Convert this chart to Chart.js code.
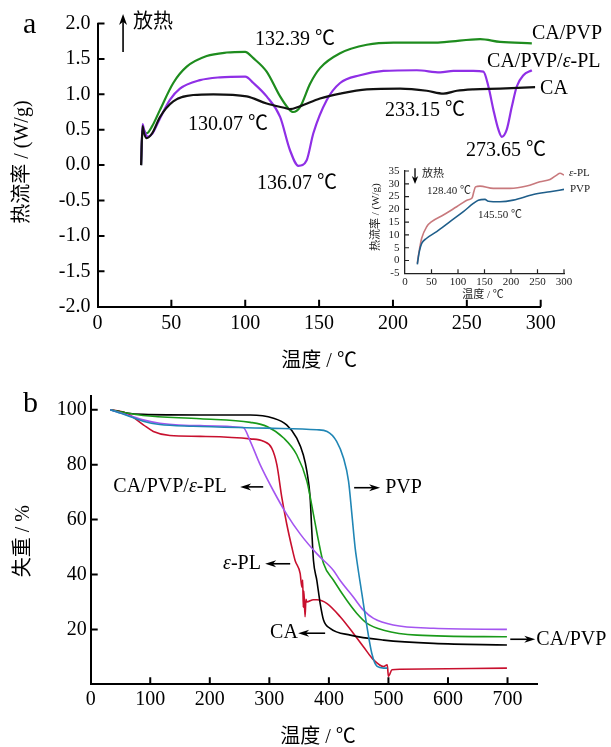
<!DOCTYPE html>
<html><head><meta charset="utf-8">
<script src="https://cdn.jsdelivr.net/npm/chart.js@4/dist/chart.umd.min.js"></script>
<style>
html,body{margin:0;padding:0;background:#fff;width:611px;height:747px;overflow:hidden;position:relative;}
canvas{position:absolute;}
#ca{left:0;top:0;width:611px;height:380px;}
#ci{left:355px;top:155px;width:245px;height:160px;}
#cb{left:0;top:380px;width:611px;height:367px;}
</style></head><body>
<canvas id="ca" width="611" height="380"></canvas>
<canvas id="cb" width="611" height="367"></canvas>
<canvas id="ci" width="245" height="160"></canvas>
<script>
// ---------- Panel a : DSC ----------
const aXTicks = [0, 50, 100, 150, 200, 250, 300];
const aYTicks = [-2, -1.5, -1, -0.5, 0, 0.5, 1, 1.5, 2];
const aCaX = [29.5, 30.5, 31.5, 33.3, 37, 42.3, 51.3, 64.9, 78.4, 101, 114.5, 128.1, 130.1, 137, 150.6, 164.2, 182.3, 204.8, 222.9, 234.2, 243.2, 254.4, 272.5, 296.2];
const aCaY = [0.0, 0.55, 0.45, 0.38, 0.45, 0.68, 0.90, 0.99, 1.00, 0.97, 0.87, 0.80, 0.79, 0.83, 0.94, 1.01, 1.07, 1.08, 1.05, 1.01, 1.05, 1.07, 1.08, 1.10];
const aCaPvpX = [29.5, 30.5, 31.5, 33.3, 37, 42.3, 51.3, 60.4, 73.9, 87.5, 99.9, 105.5, 114.5, 123.6, 129.2, 132.4, 137.1, 143.9, 150.6, 164.2, 182.3, 200.3, 227.4, 236.4, 259, 272.5, 294];
const aCaPvpY = [0.0, 0.5, 0.48, 0.45, 0.55, 0.78, 1.16, 1.39, 1.54, 1.59, 1.60, 1.51, 1.32, 0.97, 0.80, 0.75, 0.82, 1.15, 1.37, 1.58, 1.70, 1.73, 1.73, 1.74, 1.78, 1.74, 1.72];
const aTerX = [29.5, 30.5, 31.5, 34, 37, 42.3, 49, 55.8, 69.4, 83, 100, 105.5, 114.5, 123.6, 130.3, 136, 141.6, 146.1, 155.2, 164.2, 177.7, 193.5, 216.1, 231.9, 240.9, 254.4, 261.2, 264.6, 268, 271.4, 273.7, 277, 280.4, 283.8, 288.3, 294];
const aTerY = [0.0, 0.58, 0.5, 0.40, 0.44, 0.66, 0.92, 1.08, 1.20, 1.24, 1.25, 1.16, 0.97, 0.68, 0.21, -0.01, 0.07, 0.45, 0.92, 1.16, 1.27, 1.33, 1.34, 1.31, 1.33, 1.33, 1.32, 1.11, 0.78, 0.50, 0.40, 0.50, 0.82, 1.11, 1.27, 1.34];

// ---------- Inset : DSC of ε-PL and PVP ----------
const iXTicks = [0, 50, 100, 150, 200, 250, 300];
const iYTicks = [-5, 0, 5, 10, 15, 20, 25, 30, 35];
const iPlX = [23.3, 25, 27, 31.5, 40.9, 50.3, 72.3, 97.5, 119.5, 126.5, 130, 133, 141.5, 166.6, 198, 229.6, 254.7, 273.6, 286.2, 292.5, 300];
const iPlY = [-1.1, 1.5, 4.1, 8.7, 13.2, 15.2, 17.8, 21, 23.8, 24.4, 27, 28.8, 29.1, 28.2, 28.2, 29.1, 30.8, 31.7, 33.4, 34.1, 33.4];
const iPvpX = [23.3, 25, 27, 31.5, 40.9, 59.8, 84.9, 110.1, 128.9, 138.3, 150.9, 157.2, 179.2, 204.3, 242, 273.6, 300];
const iPvpY = [-1.5, 1, 3.5, 6.7, 8.7, 11.3, 15.2, 19.1, 22.3, 23.6, 23.9, 23.2, 23, 23.6, 25.8, 26.9, 27.8];

// ---------- Panel b : TGA ----------
const bXTicks = [0, 100, 200, 300, 400, 500, 600, 700];
const bYTicks = [20, 40, 60, 80, 100];
const bCaX = [32.6, 60, 88, 184, 268, 307, 329, 346, 357, 363, 368.5, 371.3, 374.1, 379.8, 385.4, 391, 402, 436, 492, 576, 699];
const bCaY = [100, 98.8, 98.3, 98.1, 98.1, 96.9, 94.5, 89.7, 83.6, 77.6, 68, 55.9, 45.1, 37.8, 29.4, 23.4, 20.4, 17.9, 16.1, 14.9, 14.3];
const bCaPvpX = [32.6, 60, 88, 184, 268, 296, 324, 346, 363, 374, 382.5, 391, 408, 430, 447, 464, 492, 548, 699];
const bCaPvpY = [100, 98.8, 97.9, 96.7, 95.4, 93.9, 89.7, 83.6, 74, 62, 52.3, 44, 37.8, 30.6, 25.8, 22.2, 19.7, 17.9, 17.3];
const bTerX = [32.6, 60, 88, 116, 184, 256, 268, 284.5, 307, 329, 352, 380, 408, 419, 441, 458, 475, 508, 576, 699];
const bTerY = [100, 98.2, 96.3, 95.1, 94.2, 93.5, 88.5, 80, 70.4, 62, 54.7, 47.5, 41.4, 37.8, 31.8, 27, 24, 21.6, 20.4, 20];
const bPvpX = [32.6, 60, 88, 116, 172, 296, 380, 397, 413, 424.5, 433, 438.6, 444, 447, 455.4, 464, 472, 481, 492, 498];
const bPvpY = [100, 98, 95.8, 94.6, 94.0, 93.3, 92.7, 92.1, 88.5, 82.4, 74, 62, 49.9, 45, 33, 20.9, 11.3, 6.5, 5.9, 5.9];
const bPlX = [32.6, 60.5, 88.4, 105.2, 133, 184, 268, 290, 304, 312.6, 321, 329.3, 337.8, 343.4, 351.8, 354.6, 356, 357, 358, 360, 361.5, 363, 374, 380, 397, 419, 441, 458, 475, 492, 498, 500, 506, 520, 699];
const bPlY = [100, 98.7, 94.5, 92.1, 90.6, 90.3, 89.4, 88.5, 86, 80, 68, 58.3, 49.9, 45, 40.3, 35.4, 38, 28, 34, 24.6, 31, 30, 30.8, 30.8, 29.4, 24.6, 18.6, 13.7, 8.9, 6.5, 7.1, 2.9, 5.3, 5.5, 5.9];

// ---------- annotations (data coordinates) ----------
const aNotes = [
  {t: '132.39 ℃', x: 106.6, y: 1.767},
  {t: '130.07 ℃', x: 61.3, y: 0.566},
  {t: '136.07 ℃', x: 108, y: -0.267},
  {t: '233.15 ℃', x: 194.6, y: 0.764},
  {t: '273.65 ℃', x: 249.5, y: 0.199},
  {t: 'CA/PVP', x: 294.1, y: 1.85},
  {t: 'CA/PVP/ε-PL', x: 263.7, y: 1.456},
  {t: 'CA', x: 299.6, y: 1.075},
  {t: '放热', x: 24, y: 2.007}
];
const aArrows = [{x1: 17.3, y1: 1.597, x2: 17.3, y2: 2.134, head: 11, hw: 4, lw: 1.6}];
const iNotes = [
  {t: '放热', x: 32, y: 33.8},
  {t: '128.40 ℃', x: 41.5, y: 27.3},
  {t: '145.50 ℃', x: 137.7, y: 17.8},
  {t: 'ε-PL', x: 309.4, y: 34.2},
  {t: 'PVP', x: 311.3, y: 27.9}
];
const iArrows = [{x1: 18.9, y1: 36.1, x2: 18.9, y2: 29.9, head: 8, hw: 3.2, lw: 1.3}];
const bNotes = [
  {t: 'CA/PVP/ε-PL', x: 38, y: 71.9},
  {t: 'PVP', x: 494.5, y: 71.6},
  {t: 'ε-PL', x: 222.3, y: 43.9},
  {t: 'CA', x: 301.3, y: 18.6},
  {t: 'CA/PVP', x: 748.4, y: 16.4}
];
const bArrows = [
  {x1: 289.7, y1: 71.9, x2: 251, y2: 71.9, head: 11, hw: 3.5, lw: 1.6},
  {x1: 442.4, y1: 71.6, x2: 486, y2: 71.6, head: 11, hw: 3.5, lw: 1.6},
  {x1: 335, y1: 43.9, x2: 293, y2: 43.9, head: 11, hw: 3.5, lw: 1.6},
  {x1: 393.7, y1: 18.6, x2: 348.4, y2: 18.6, head: 11, hw: 3.5, lw: 1.6},
  {x1: 704.6, y1: 16.4, x2: 746.6, y2: 16.4, head: 11, hw: 3.5, lw: 1.6}
];

const FONT = '"Liberation Serif","Noto Sans CJK SC",serif';
const pts = (xs, ys) => xs.map((x, i) => ({x: x, y: ys[i]}));

function drawLabel(ctx, str, x, y, size, align) {
  const parts = str.split('ε');
  const segs = [];
  parts.forEach((p, i) => { if (i > 0) segs.push(['ε', true]); if (p) segs.push([p, false]); });
  let w = 0;
  segs.forEach(s => { ctx.font = (s[1] ? 'italic ' : '') + size + 'px ' + FONT; w += ctx.measureText(s[0]).width; });
  let cx = align === 'center' ? x - w / 2 : (align === 'right' ? x - w : x);
  ctx.textAlign = 'left'; ctx.textBaseline = 'middle';
  segs.forEach(s => { ctx.font = (s[1] ? 'italic ' : '') + size + 'px ' + FONT; ctx.fillText(s[0], cx, y); cx += ctx.measureText(s[0]).width; });
}
function drawArrow(ctx, x1, y1, x2, y2, head, hw, lw) {
  const a = Math.atan2(y2 - y1, x2 - x1), c = Math.cos(a), s = Math.sin(a);
  ctx.lineWidth = lw; ctx.strokeStyle = '#000'; ctx.fillStyle = '#000';
  ctx.beginPath(); ctx.moveTo(x1, y1); ctx.lineTo(x2 - c * head * 0.6, y2 - s * head * 0.6); ctx.stroke();
  ctx.beginPath(); ctx.moveTo(x2, y2);
  ctx.lineTo(x2 - c * head + s * hw, y2 - s * head - c * hw);
  ctx.lineTo(x2 - c * head * 0.7, y2 - s * head * 0.7);
  ctx.lineTo(x2 - c * head - s * hw, y2 - s * head + c * hw);
  ctx.closePath(); ctx.fill();
}
function makeDecor(cfg) {
  return {
    id: 'decor',
    afterDraw(chart) {
      const ctx = chart.ctx, xs = chart.scales.x, ys = chart.scales.y, A = chart.chartArea;
      ctx.save();
      ctx.strokeStyle = cfg.axisColor; ctx.lineWidth = cfg.tickWidth;
      ctx.beginPath();
      cfg.xMarks.forEach(v => { const p = xs.getPixelForValue(v); ctx.moveTo(p, A.bottom); ctx.lineTo(p, A.bottom - cfg.tickLen); });
      cfg.yMarks.forEach(v => { const p = ys.getPixelForValue(v); ctx.moveTo(A.left, p); ctx.lineTo(A.left + cfg.tickLen, p); });
      ctx.stroke();
      ctx.fillStyle = cfg.textColor;
      drawLabel(ctx, cfg.xTitle, (A.left + A.right) / 2 + cfg.xTitleDx, A.bottom + cfg.xTitleDy, cfg.titleSize, 'center');
      ctx.save();
      ctx.translate(A.left + cfg.yTitleDx, (A.top + A.bottom) / 2 + cfg.yTitleDy);
      ctx.rotate(-Math.PI / 2);
      drawLabel(ctx, cfg.yTitle, 0, 0, cfg.titleSize, 'center');
      ctx.restore();
      if (cfg.letter) {
        ctx.font = cfg.letter.size + 'px ' + FONT; ctx.textAlign = 'left'; ctx.textBaseline = 'alphabetic';
        ctx.fillText(cfg.letter.t, cfg.letter.x, cfg.letter.y);
      }
      cfg.notes.forEach(n => { ctx.fillStyle = cfg.textColor; drawLabel(ctx, n.t, xs.getPixelForValue(n.x), ys.getPixelForValue(n.y), cfg.noteSize, 'left'); });
      cfg.arrows.forEach(r => drawArrow(ctx, xs.getPixelForValue(r.x1), ys.getPixelForValue(r.y1), xs.getPixelForValue(r.x2), ys.getPixelForValue(r.y2), r.head, r.hw, r.lw));
      ctx.restore();
    }
  };
}
function line(data, color, w) {
  return {data: data, borderColor: color, borderWidth: w, pointRadius: 0, fill: false, cubicInterpolationMode: 'monotone'};
}
function opts(c) {
  return {
    responsive: false, animation: false, events: [],
    layout: {padding: c.pad},
    plugins: {legend: {display: false}, tooltip: {enabled: false}},
    scales: {
      x: {type: 'linear', min: c.xmin, max: c.xmax,
        afterBuildTicks: s => { s.ticks = c.xTicks.map(v => ({value: v})); },
        afterFit: s => { s.height = c.xh; },
        grid: {display: false, drawTicks: false},
        border: {display: true, color: c.axisColor, width: c.axisW},
        ticks: {font: {family: FONT, size: c.tickSize}, color: c.textColor, padding: c.xPad, maxRotation: 0, autoSkip: false}},
      y: {type: 'linear', min: c.ymin, max: c.ymax,
        afterBuildTicks: s => { s.ticks = c.yTicks.map(v => ({value: v})); },
        afterFit: s => { s.width = c.yw; },
        grid: {display: false, drawTicks: false},
        border: {display: true, color: c.axisColor, width: c.axisW},
        ticks: {font: {family: FONT, size: c.tickSize}, color: c.textColor, padding: c.yPad, autoSkip: false, callback: c.yFmt}}
    }
  };
}

// Panel a
new Chart(document.getElementById('ca'), {
  type: 'line',
  data: {datasets: [
    line(pts(aCaX, aCaY), '#111111', 2.2),
    line(pts(aTerX, aTerY), '#8f2fe6', 2.2),
    line(pts(aCaPvpX, aCaPvpY), '#1e8c1e', 2.2)
  ]},
  options: opts({pad: {left: 0, top: 23.5, right: 70.3, bottom: 0}, xmin: 0, xmax: 300, ymin: -2, ymax: 2,
    xTicks: aXTicks, yTicks: aYTicks, xh: 73.3, yw: 97.5, axisColor: '#000', axisW: 2, tickSize: 20,
    textColor: '#000', xPad: 5, yPad: 7, yFmt: v => v.toFixed(1)}),
  plugins: [makeDecor({axisColor: '#000', tickWidth: 2, tickLen: 7, textColor: '#000',
    xMarks: aXTicks.slice(1), yMarks: aYTicks.slice(1),
    xTitle: '温度 / ℃', xTitleDx: 0, xTitleDy: 55.5, yTitle: '热流率 / (W/g)', yTitleDx: -74.5, yTitleDy: -3, titleSize: 20,
    letter: {t: 'a', x: 23, y: 33, size: 30}, notes: aNotes, noteSize: 20, arrows: aArrows})]
});

// Inset
new Chart(document.getElementById('ci'), {
  type: 'line',
  data: {datasets: [
    line(pts(iPvpX, iPvpY), '#1f5e8a', 1.6),
    line(pts(iPlX, iPlY), '#c8797d', 1.6)
  ]},
  options: opts({pad: {left: 0, top: 16, right: 36, bottom: 0}, xmin: 0, xmax: 300, ymin: -5, ymax: 35,
    xTicks: iXTicks, yTicks: iYTicks, xh: 41.7, yw: 50, axisColor: '#222', axisW: 1.3, tickSize: 11,
    textColor: '#222', xPad: 2.5, yPad: 5.5, yFmt: v => String(v)}),
  plugins: [makeDecor({axisColor: '#222', tickWidth: 1.2, tickLen: 4, textColor: '#222',
    xMarks: iXTicks.slice(1), yMarks: iYTicks.slice(1),
    xTitle: '温度 / ℃', xTitleDx: -1.5, xTitleDy: 21.7, yTitle: '热流率 / (W/g)', yTitleDx: -29, yTitleDy: -5, titleSize: 11,
    letter: null, notes: iNotes, noteSize: 11, arrows: iArrows})]
});

// Panel b
new Chart(document.getElementById('cb'), {
  type: 'line',
  data: {datasets: [
    line(pts(bPvpX, bPvpY), '#2086b5', 1.6),
    line(pts(bTerX, bTerY), '#a455f0', 1.6),
    line(pts(bCaPvpX, bCaPvpY), '#1a9a1a', 1.6),
    line(pts(bCaX, bCaY), '#000000', 1.6),
    line(pts(bPlX, bPlY), '#c8102e', 1.6)
  ]},
  options: opts({pad: {left: 0, top: 13.4, right: 73.7, bottom: 0}, xmin: 0, xmax: 750, ymin: 0, ymax: 105,
    xTicks: bXTicks, yTicks: bYTicks, xh: 62.7, yw: 90.7, axisColor: '#000', axisW: 2, tickSize: 20,
    textColor: '#000', xPad: 3.5, yPad: 4, yFmt: v => String(v)}),
  plugins: [makeDecor({axisColor: '#000', tickWidth: 2, tickLen: 7, textColor: '#000',
    xMarks: bXTicks.slice(1), yMarks: bYTicks,
    xTitle: '温度 / ℃', xTitleDx: 4, xTitleDy: 53.7, yTitle: '失重 / %', yTitleDx: -66.7, yTitleDy: 1, titleSize: 20,
    letter: {t: 'b', x: 23, y: 32, size: 30}, notes: bNotes, noteSize: 20, arrows: bArrows})]
});
</script>
</body></html>
